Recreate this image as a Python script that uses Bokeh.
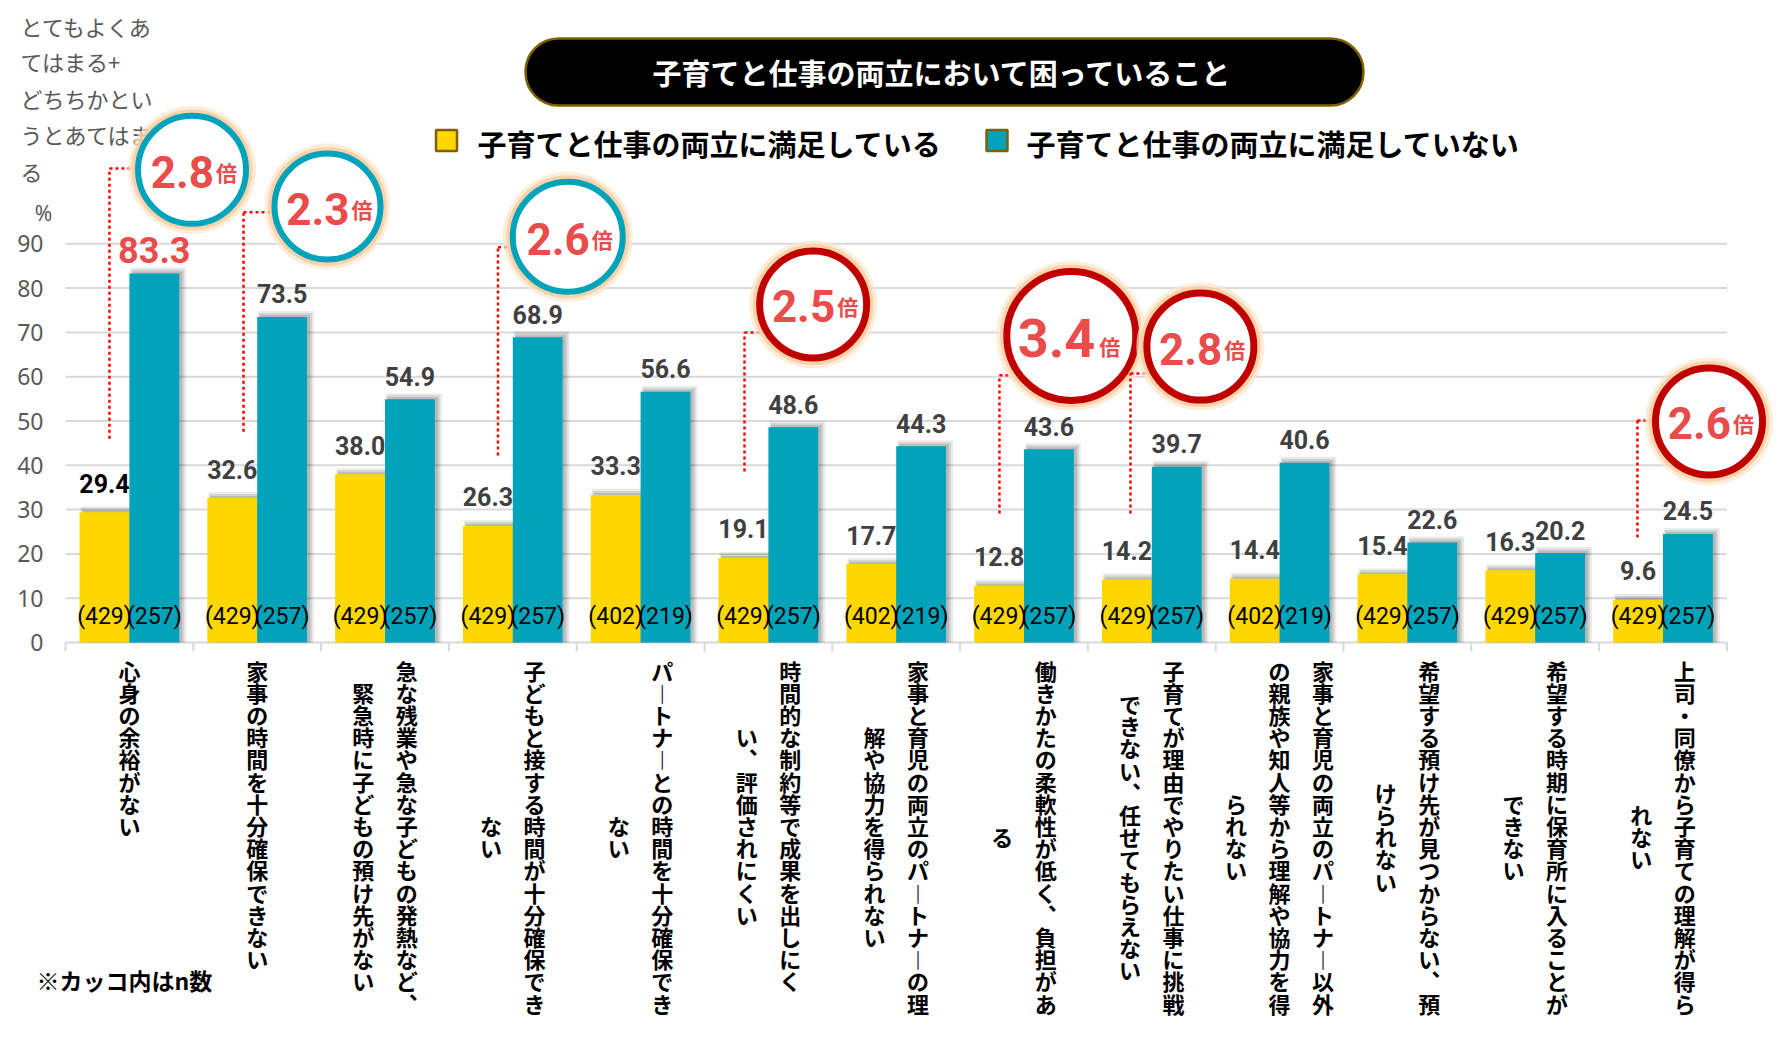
import numpy as np
from bokeh.plotting import figure
from bokeh.models import Range1d
from bokeh.core.properties import value
from bokeh.embed import file_html
from bokeh.resources import INLINE

# ---------------- data ----------------
categories = [
    ["心身の余裕がない"],
    ["家事の時間を十分確保できない"],
    ["急な残業や急な子どもの発熱など、", "緊急時に子どもの預け先がない"],
    ["子どもと接する時間が十分確保でき", "ない"],
    ["パートナーとの時間を十分確保でき", "ない"],
    ["時間的な制約等で成果を出しにく", "い、評価されにくい"],
    ["家事と育児の両立のパートナーの理", "解や協力を得られない"],
    ["働きかたの柔軟性が低く、負担があ", "る"],
    ["子育てが理由でやりたい仕事に挑戦", "できない、任せてもらえない"],
    ["家事と育児の両立のパートナー以外", "の親族や知人等から理解や協力を得", "られない"],
    ["希望する預け先が見つからない、預", "けられない"],
    ["希望する時期に保育所に入ることが", "できない"],
    ["上司・同僚から子育ての理解が得ら", "れない"],
]
satisfied = [29.4, 32.6, 38.0, 26.3, 33.3, 19.1, 17.7, 12.8, 14.2, 14.4, 15.4, 16.3, 9.6]
unsatisfied = [83.3, 73.5, 54.9, 68.9, 56.6, 48.6, 44.3, 43.6, 39.7, 40.6, 22.6, 20.2, 24.5]
n_satisfied = [429, 429, 429, 429, 402, 429, 402, 429, 429, 402, 429, 429, 429]
n_unsatisfied = [257, 257, 257, 257, 219, 257, 219, 257, 257, 219, 257, 257, 257]
series_names = ["子育てと仕事の両立に満足している", "子育てと仕事の両立に満足していない"]
y_ticks = [0, 10, 20, 30, 40, 50, 60, 70, 80, 90]
title_text = "子育てと仕事の両立において困っていること"
y_title_lines = ["とてもよくあ", "てはまる+", "どちちかとい", "うとあてはま", "る"]
unit_text = "%"
footnote = "※カッコ内はn数"

# categories with multiplier badges
callout_cat = [0, 1, 3, 5, 7, 8, 12]

# ---------------- layout ----------------
W, H = 1776, 1040
X0 = 65          # canvas x of category axis start
Y0 = 642         # canvas y of value 0
PXX = 127.8      # px per category
PXY = 4.43       # px per value unit


def xd(cx):
    return (cx - X0) / PXX


def yd(cy):
    return (Y0 - cy) / PXY


YELLOW = "#FFD700"
TEAL = "#00A3BA"
GRID = "#D9D9D9"
RED_TXT = "#E84C4B"
JP = "Noto Sans CJK JP"
NUM = "Roboto"

# callout layout (data coordinates)
callout_cx = [0.99, 2.05, 3.93, 5.85, 7.87, 8.88, 12.86]
callout_cy = [106.7, 98.4, 91.6, 76.3, 69.2, 66.8, 49.9]
callout_r = [57, 56, 58, 57, 68, 57, 57]
callout_lx = [0.344, 1.393, 3.384, 5.313, 7.308, 8.333, 12.30]
callout_ly = [107.0, 97.1, 89.2, 70.0, 60.3, 60.7, 50.1]
callout_lb = [46.0, 47.6, 42.2, 38.6, 29.1, 29.1, 23.7]
callout_ring = [TEAL, TEAL, TEAL, "#C00000", "#C00000", "#C00000", "#C00000"]

p = figure(width=W, height=H,
           x_range=Range1d(-X0 / PXX, (W - X0) / PXX),
           y_range=Range1d(-(H - Y0) / PXY, Y0 / PXY),
           output_backend="svg", toolbar_location=None,
           x_axis_location=None, y_axis_location=None,
           min_border_left=0, min_border_right=0, min_border_top=0, min_border_bottom=0)
p.outline_line_color = None
p.grid.visible = False
p.background_fill_color = "white"
p.border_fill_color = "white"

ncat = len(categories)
idx = np.arange(ncat)

# y tick labels, gridlines & baseline ticks
p.text(x=[xd(43)] * len(y_ticks), y=y_ticks, text=[str(t) for t in y_ticks], text_align="right",
       text_baseline="middle", text_font=value("Noto Sans"), text_font_size="23px",
       text_color="#595959")
p.segment(x0=[0] * len(y_ticks), x1=[ncat] * len(y_ticks), y0=y_ticks, y1=y_ticks,
          line_color=GRID, line_width=2)
p.segment(x0=list(range(ncat + 1)), x1=list(range(ncat + 1)),
          y0=[0] * (ncat + 1), y1=[-9 / PXY] * (ncat + 1), line_color=GRID, line_width=2)

# y-axis title and unit
p.text(x=[xd(20)] * len(y_title_lines), y=[yd(v) for v in [25, 60.5, 97, 133, 170]],
       text=y_title_lines, text_align="left", text_baseline="middle", text_font=value(JP),
       text_font_size="22px", text_color="#595959")
p.text(x=[xd(43)], y=[yd(212)], text=[unit_text], text_align="center", text_baseline="middle",
       text_font=value("Noto Sans"), text_font_size="21px", text_color="#595959")

BW = 0.39
xs_s = idx + 0.5 - BW / 2
xs_u = idx + 0.5 + BW / 2

# bar shadows
for dl, dr, dy, a in [(1, 7, 6, 0.08), (2, 5, 4, 0.10), (3, 3, 2, 0.12)]:
    for xs, vals in [(xs_s, satisfied), (xs_u, unsatisfied)]:
        p.quad(left=xs - BW / 2 + dl / PXX, right=xs + BW / 2 + dr / PXX,
               top=np.array(vals) + dy / PXY, bottom=0,
               fill_color="black", fill_alpha=a, line_color=None)

p.vbar(x=xs_s, width=BW, top=satisfied, fill_color=YELLOW, line_color=None)
p.vbar(x=xs_u, width=BW, top=unsatisfied, fill_color=TEAL, line_color=None)

# value labels
s_colors = ["black"] + ["#404040"] * (ncat - 1)
p.text(x=xs_s, y=satisfied, text=[f"{v:.1f}" for v in satisfied], text_align="center",
       text_baseline="alphabetic", y_offset=-29, text_font=value(NUM), text_font_style="bold",
       text_font_size="25px", text_color=s_colors)
u_sizes = ["36px"] + ["25px"] * (ncat - 1)
u_colors = [RED_TXT] + ["#404040"] * (ncat - 1)
p.text(x=xs_u, y=unsatisfied, text=[f"{v:.1f}" for v in unsatisfied], text_align="center",
       text_baseline="alphabetic", y_offset=-23, text_font=value(NUM), text_font_style="bold",
       text_font_size=u_sizes, text_color=u_colors)

# n labels
p.text(x=xs_s, y=[0] * ncat, text=[f"({n})" for n in n_satisfied], text_align="center",
       text_baseline="middle", y_offset=-26, text_font=value(NUM), text_font_size="23px",
       text_color="black")
p.text(x=xs_u, y=[0] * ncat, text=[f"({n})" for n in n_unsatisfied], text_align="center",
       text_baseline="middle", y_offset=-26, text_font=value(NUM), text_font_size="23px",
       text_color="black")

# vertical category labels
VERT = {"ー": "︱", "、": "︑"}
LABEL_TOP, CH, COL_SP = 658, 22.2, 43.5
cx, cy, ct = [], [], []
for i, lines in enumerate(categories):
    n = len(lines)
    m = max(len(l) for l in lines)
    for j, line in enumerate(lines):
        colx = i + 0.5 + ((n - 1) / 2 - j) * COL_SP / PXX
        start = (m - len(line)) / 2
        for k, ch in enumerate(line):
            ycan = LABEL_TOP + (start + k + 0.5) * CH
            cx.append(colx)
            cy.append(yd(ycan))
            ct.append(VERT.get(ch, ch))
p.text(x=cx, y=cy, text=ct, text_align="center", text_baseline="middle",
       text_font=value(JP), text_font_style="bold", text_font_size="22px", text_color="black")

# callouts
for c, cxx, cyy, r, lx, ly, lb, ring in zip(callout_cat, callout_cx, callout_cy, callout_r,
                                             callout_lx, callout_ly, callout_lb, callout_ring):
    p.line(x=[lx, lx], y=[lb, ly], line_color="#FF0000", line_width=2.5, line_dash="3 3")
    p.line(x=[lx, cxx - (r - 8) / PXX], y=[ly, ly], line_color="#FF0000", line_width=2.5,
           line_dash="3 3")
    p.scatter(x=[cxx], y=[cyy], marker="circle", size=2 * r + 14, fill_color="#FDE5CC",
              fill_alpha=0.7, line_color=None)
    p.scatter(x=[cxx], y=[cyy], marker="circle", size=2 * r + 7, fill_color="#F9C796",
              fill_alpha=0.7, line_color=None)
    lw = 7 if ring != TEAL else 6
    p.scatter(x=[cxx], y=[cyy], marker="circle", size=2 * r - lw, fill_color="white",
              line_color=ring, line_width=lw)
    ratio = f"{unsatisfied[c] / satisfied[c]:.1f}"
    big = r > 60
    fs, xo, yo, bo, byo = (54, 24, 2, 28, 10) if big else (44, 22, 2, 24, 2)
    p.text(x=[cxx], y=[cyy], text=[ratio], text_align="right", text_baseline="alphabetic",
           x_offset=xo, y_offset=yo, text_font=value(NUM), text_font_style="bold",
           text_font_size=f"{fs}px", text_color=RED_TXT)
    p.text(x=[cxx], y=[cyy], text=["倍"], text_align="left", text_baseline="alphabetic",
           x_offset=bo, y_offset=byo, text_font=value(JP), text_font_style="bold",
           text_font_size="21px", text_color=RED_TXT)

# title pill
p.quad(left=[xd(525)], right=[xd(1363)], top=[yd(38)], bottom=[yd(105)], border_radius=33,
       fill_color="black", line_color="#7F6000", line_width=2.5)
p.text(x=[xd(942)], y=[yd(71.5)], text=[title_text], text_align="center", text_baseline="middle",
       text_font=value(JP), text_font_style="bold", text_font_size="29px", text_color="white")

# legend
p.scatter(x=[xd(446), xd(996.5)], y=[yd(140), yd(140)], marker="square", size=21,
          fill_color=[YELLOW, TEAL], line_color="#7F6000", line_width=2.5)
p.text(x=[xd(477), xd(1026)], y=[yd(142), yd(142)], text=series_names, text_align="left",
       text_baseline="middle", text_font=value(JP), text_font_style="bold",
       text_font_size="29px", text_color="black")

# footnote
p.text(x=[xd(36)], y=[yd(979)], text=[footnote], text_align="left", text_baseline="middle",
       text_font=value(JP), text_font_style="bold", text_font_size="23px", text_color="black")

open("out.html", "w").write(file_html(p, INLINE, "chart"))
